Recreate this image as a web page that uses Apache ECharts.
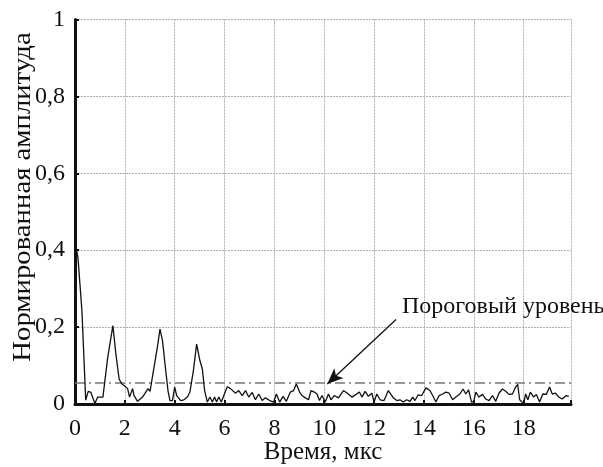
<!DOCTYPE html>
<html>
<head>
<meta charset="utf-8">
<script src="https://cdn.jsdelivr.net/npm/echarts@6/dist/echarts.min.js"></script>
<style>html,body{margin:0;padding:0;background:#fff}#c{width:603px;height:467px}</style>
</head>
<body>
<div id="c"></div>
<script>
// Time, μs
const timeUs = [
  0, 0.04, 0.12, 0.2, 0.28, 0.43, 0.53, 0.64, 0.8, 0.91, 1.12, 1.31, 1.52, 1.64, 1.77, 1.88, 1.97,
  2.11, 2.19, 2.31, 2.37, 2.51, 2.71, 2.93, 3.01, 3.17, 3.31, 3.41, 3.51, 3.64, 3.73, 3.81, 3.91,
  4.0, 4.08, 4.24, 4.37, 4.51, 4.61, 4.75, 4.88, 5.01, 5.11, 5.2, 5.31, 5.41, 5.51, 5.6, 5.68,
  5.77, 5.87, 5.97, 6.11, 6.24, 6.44, 6.57, 6.71, 6.84, 6.97, 7.11, 7.24, 7.37, 7.51, 7.64, 7.81,
  7.97, 8.08, 8.21, 8.35, 8.48, 8.64, 8.77, 8.88, 9.01, 9.11, 9.24, 9.37, 9.47, 9.6, 9.71, 9.81,
  9.91, 10.04, 10.17, 10.27, 10.4, 10.57, 10.77, 10.93, 11.11, 11.28, 11.41, 11.51, 11.64, 11.77,
  11.91, 12.0, 12.11, 12.24, 12.4, 12.57, 12.71, 12.77, 12.91, 13.04, 13.17, 13.31, 13.44, 13.55,
  13.64, 13.77, 13.91, 14.08, 14.24, 14.35, 14.48, 14.61, 14.75, 14.88, 15.01, 15.15, 15.28, 15.44,
  15.57, 15.68, 15.79, 15.91, 16.0, 16.08, 16.21, 16.35, 16.48, 16.61, 16.75, 16.88, 17.01, 17.15,
  17.28, 17.41, 17.55, 17.68, 17.76, 17.84, 17.92, 18.0, 18.08, 18.17, 18.27, 18.4, 18.51, 18.64,
  18.77, 18.91, 19.04, 19.15, 19.28, 19.41, 19.55, 19.71, 19.81
];
// Normalized amplitude
const amplitude = [
  1.0, 0.41, 0.38, 0.31, 0.24, 0.01, 0.033, 0.03, 0.001, 0.018, 0.018, 0.12, 0.204, 0.13, 0.065, 0.052, 0.048,
  0.04, 0.018, 0.04, 0.022, 0.007, 0.018, 0.04, 0.033, 0.095, 0.15, 0.195, 0.165, 0.087, 0.035, 0.009, 0.009,
  0.044, 0.022, 0.009, 0.011, 0.018, 0.031, 0.087, 0.156, 0.113, 0.091, 0.035, 0.005, 0.018, 0.005, 0.018, 0.005,
  0.018, 0.005, 0.022, 0.045, 0.04, 0.028, 0.035, 0.022, 0.035, 0.018, 0.03, 0.011, 0.026, 0.009, 0.016, 0.009,
  0.005, 0.026, 0.005, 0.02, 0.007, 0.031, 0.035, 0.052, 0.031, 0.022, 0.016, 0.011, 0.035, 0.031, 0.026, 0.009,
  0.022, 0.005, 0.026, 0.011, 0.022, 0.016, 0.035, 0.028, 0.018, 0.025, 0.031, 0.018, 0.033, 0.02,
  0.028, 0.005, 0.026, 0.011, 0.009, 0.035, 0.022, 0.016, 0.009, 0.011, 0.005, 0.011, 0.007, 0.018,
  0.009, 0.024, 0.022, 0.042, 0.035, 0.022, 0.005, 0.022, 0.026, 0.031, 0.028, 0.011, 0.018, 0.026,
  0.039, 0.026, 0.037, 0.005, 0.007, 0.031, 0.018, 0.025, 0.013, 0.009, 0.022, 0.007, 0.028, 0.039,
  0.033, 0.025, 0.026, 0.044, 0.051, 0.011, 0.009, 0.001, 0.026, 0.011, 0.031, 0.018, 0.025, 0.005,
  0.026, 0.025, 0.044, 0.026, 0.028, 0.018, 0.013, 0.022, 0.02
];
const thresholdLevel = 0.055;
const xTicks = [0, 2, 4, 6, 8, 10, 12, 14, 16, 18];
const yTicks = [0, 0.2, 0.4, 0.6, 0.8, 1];
const xAxisTitle = 'Время, мкс';
const yAxisTitle = 'Нормированная амплитуда';
const annotationText = 'Пороговый уровень';
const arrowFrom = [12.88, 0.22];
const arrowTo = [10.12, 0.052];
const textAnchor = [13.12, 0.253];

const FONT = '"Liberation Serif", "DejaVu Serif", serif';
const seriesData = timeUs.map((t, i) => [t, amplitude[i]]);

const chart = echarts.init(document.getElementById('c'), null, {renderer: 'canvas'});
chart.setOption({
  animation: false,
  backgroundColor: '#fff',
  textStyle: {fontFamily: FONT},
  grid: {left: 75, right: 32, top: 19.5, bottom: 63, containLabel: false, outerBoundsMode: 'none'},
  graphic: [
    {
      type: 'text', x: 23, y: 197, rotation: Math.PI / 2, scaleX: 1.15, silent: true,
      style: {text: yAxisTitle, font: '25px "Liberation Serif", serif', fill: '#111',
        align: 'center', verticalAlign: 'middle'}
    }
  ],
  xAxis: {
    type: 'value', min: 0, max: 19.9, interval: 2,
    name: xAxisTitle, nameLocation: 'middle', nameGap: 36, nameMoveOverlap: false,
    nameTextStyle: {fontFamily: FONT, fontSize: 25, color: '#111'},
    axisLine: {show: true, onZero: false, lineStyle: {color: '#111', width: 3}},
    axisTick: {show: true, inside: true, length: 4, lineStyle: {color: '#111', width: 2}},
    axisLabel: {fontFamily: FONT, fontSize: 24, color: '#111', margin: 13,
      formatter: v => xTicks.includes(v) ? String(v) : ''},
    splitLine: {show: true, lineStyle: {color: '#b0b0b0', type: [2, 1], width: 1}}
  },
  yAxis: {
    type: 'value', min: 0, max: 1, interval: 0.2, offset: 3,
    axisLine: {show: true, lineStyle: {color: '#111', width: 3}},
    axisTick: {show: true, inside: true, length: 4, lineStyle: {color: '#111', width: 2}},
    axisLabel: {fontFamily: FONT, fontSize: 24, color: '#111', margin: 7,
      formatter: v => {
        const r = Math.round(v * 10) / 10;
        return yTicks.some(t => Math.abs(t - r) < 1e-9) ? String(r).replace('.', ',') : '';
      }},
    splitLine: {show: true, lineStyle: {color: '#b0b0b0', type: [2, 1], width: 1}}
  },
  series: [
    {
      type: 'line', data: seriesData, showSymbol: false, symbol: 'none', clip: false,
      lineStyle: {color: '#111', width: 1.3}, z: 5,
      markLine: {
        silent: true, animation: false,
        data: [
          [{coord: [0, thresholdLevel], symbol: 'none'}, {coord: [19.9, thresholdLevel], symbol: 'none'}]
        ],
        label: {show: false},
        lineStyle: {color: '#777', width: 1.5, type: [10, 4, 2, 4]}
      }
    },
    {
      type: 'line', data: [],
      markLine: {
        silent: true, animation: false,
        symbol: ['none', 'arrow'], symbolSize: [10, 16],
        data: [[{coord: arrowFrom}, {coord: arrowTo}]],
        label: {show: false},
        lineStyle: {color: '#111', width: 1.3, type: 'solid'}
      },
      markPoint: {
        silent: true, symbol: 'circle', symbolSize: 0,
        data: [{coord: textAnchor}],
        label: {show: true, position: 'right', distance: 0, formatter: annotationText,
          fontFamily: FONT, fontSize: 24, color: '#111'}
      }
    }
  ]
});
</script>
</body>
</html>
